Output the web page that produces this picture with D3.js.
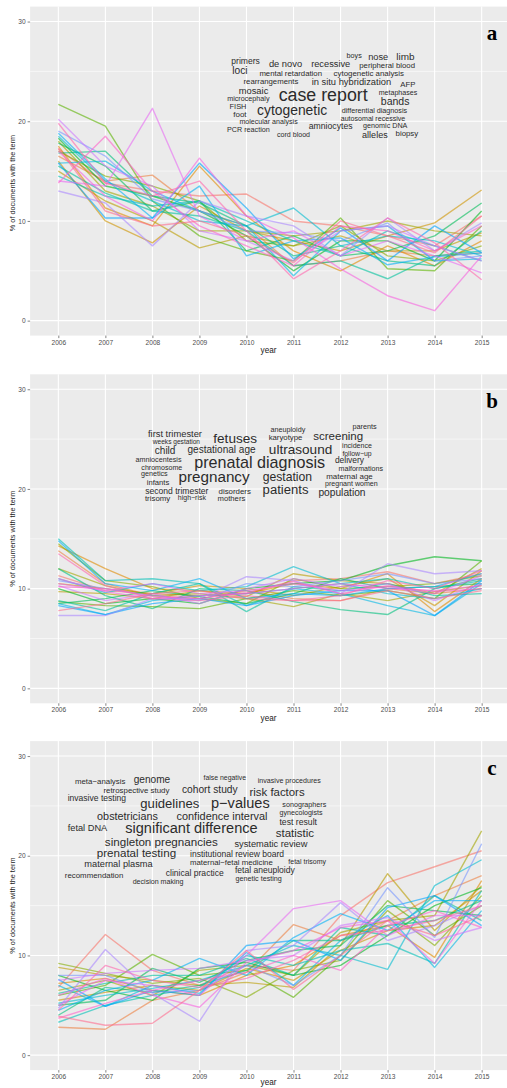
<!DOCTYPE html>
<html>
<head>
<meta charset="utf-8">
<script src="https://cdn.jsdelivr.net/npm/d3@7"></script>
<style>
  body { margin: 0; background: #fff; }
  svg { display: block; }
</style>
</head>
<body>
<svg id="chart" width="507" height="1088"></svg>
<script>
const years = [2006, 2007, 2008, 2009, 2010, 2011, 2012, 2013, 2014, 2015];
const yTicks = [0, 10, 20, 30];
const yMinor = [5, 15, 25];
const panelLabels = ['a', 'b', 'c'];

// one row per term, % of documents per year (2006..2015)
const seriesA = [
  [17.2, 13.8, 13.0, 12.5, 12.7, 10.0, 9.5, 8.5, 7.5, 10.5],
  [16.5, 14.0, 14.6, 11.0, 9.5, 5.5, 6.0, 7.0, 6.5, 6.8],
  [17.5, 11.3, 9.5, 15.5, 10.5, 7.0, 5.0, 7.5, 5.5, 8.0],
  [16.0, 10.0, 7.8, 11.5, 9.0, 8.0, 7.0, 8.5, 9.8, 13.1],
  [15.0, 12.0, 10.0, 7.3, 8.5, 7.5, 8.5, 7.0, 7.0, 8.8],
  [18.0, 13.0, 11.5, 9.0, 9.0, 8.5, 9.0, 10.0, 9.0, 8.5],
  [17.0, 14.5, 13.5, 12.0, 8.0, 7.5, 9.5, 6.5, 6.0, 7.5],
  [21.7, 19.5, 12.0, 8.5, 7.0, 6.0, 10.3, 5.2, 5.0, 9.5],
  [18.3, 13.5, 12.5, 11.0, 8.5, 5.0, 8.0, 8.0, 6.0, 11.0],
  [17.8, 15.5, 11.0, 12.0, 7.0, 8.5, 6.5, 7.0, 8.5, 11.8],
  [16.8, 17.0, 12.5, 11.8, 9.5, 6.5, 7.5, 6.0, 5.5, 9.0],
  [15.5, 12.8, 11.0, 10.5, 9.0, 5.5, 6.0, 4.2, 6.5, 7.0],
  [14.5, 12.5, 11.5, 12.0, 10.0, 8.0, 6.5, 9.0, 7.5, 6.0],
  [18.5, 14.0, 12.0, 10.0, 9.5, 11.3, 7.5, 8.5, 8.0, 6.5],
  [15.8, 16.0, 13.0, 11.0, 9.5, 4.5, 9.0, 9.5, 6.0, 6.2],
  [18.8, 14.2, 10.3, 13.5, 6.5, 8.0, 8.3, 5.6, 6.4, 6.8],
  [15.8, 10.3, 10.3, 15.8, 11.3, 6.2, 9.3, 6.0, 9.5, 6.8],
  [19.0, 16.5, 12.2, 11.0, 9.0, 8.8, 8.0, 9.8, 6.0, 6.5],
  [13.0, 11.8, 7.5, 12.0, 10.5, 9.5, 6.5, 10.3, 7.0, 9.8],
  [20.2, 15.5, 13.5, 9.0, 8.0, 6.0, 9.0, 9.5, 7.5, 6.0],
  [14.0, 13.5, 21.3, 10.5, 8.0, 9.0, 6.5, 8.0, 6.5, 4.8],
  [17.0, 12.5, 10.0, 16.3, 10.5, 8.3, 5.2, 2.5, 1.0, 6.5],
  [13.8, 18.5, 13.0, 9.5, 7.5, 5.5, 9.5, 9.0, 7.0, 9.5],
  [19.8, 13.8, 12.5, 14.0, 9.0, 4.2, 7.0, 10.3, 7.8, 4.1],
  [17.3, 11.0, 9.5, 10.0, 8.5, 5.8, 10.0, 8.5, 6.8, 10.5]
];

const seriesB = [
  [11.3, 9.8, 9.5, 9.3, 9.5, 10.8, 11.0, 11.7, 10.5, 11.5],
  [13.8, 10.5, 9.3, 9.0, 9.8, 9.0, 8.8, 10.0, 9.5, 10.0],
  [14.3, 12.0, 10.0, 9.8, 9.5, 10.5, 10.0, 11.5, 7.7, 11.0],
  [10.5, 10.0, 9.5, 10.3, 10.0, 9.3, 10.2, 11.0, 8.3, 11.8],
  [9.7, 9.5, 9.0, 9.8, 9.2, 11.5, 10.8, 10.5, 9.5, 12.0],
  [12.0, 10.3, 9.3, 9.5, 9.0, 8.2, 9.5, 8.8, 9.7, 10.3],
  [14.5, 10.8, 10.2, 9.0, 8.5, 11.0, 10.0, 10.2, 10.5, 11.3],
  [8.7, 8.3, 8.2, 8.0, 9.0, 9.8, 9.3, 9.8, 9.0, 12.8],
  [10.0, 8.5, 9.0, 8.5, 10.0, 10.5, 10.8, 12.3, 13.2, 12.8],
  [8.5, 9.0, 9.8, 9.2, 8.5, 9.5, 11.0, 10.0, 10.2, 10.5],
  [12.0, 9.3, 8.0, 10.0, 9.8, 8.7, 7.9, 7.4, 10.0, 11.0],
  [8.8, 7.8, 9.5, 10.5, 7.7, 10.2, 9.8, 10.5, 9.3, 9.5],
  [15.0, 10.8, 11.0, 10.5, 8.3, 10.0, 10.5, 11.0, 10.0, 10.8],
  [11.0, 9.6, 10.5, 9.8, 10.2, 12.2, 10.5, 9.5, 9.0, 10.0],
  [8.5, 7.4, 8.8, 9.3, 9.5, 10.0, 9.5, 8.3, 7.3, 10.5],
  [14.8, 10.5, 9.8, 11.0, 9.0, 9.5, 9.3, 10.0, 10.2, 11.5],
  [8.3, 7.4, 8.5, 9.0, 8.3, 9.3, 9.8, 9.8, 7.3, 10.8],
  [10.8, 10.0, 9.3, 8.8, 10.5, 10.2, 10.8, 11.5, 10.5, 11.0],
  [7.3, 7.3, 9.0, 9.0, 11.2, 10.8, 9.5, 12.5, 11.5, 11.8],
  [10.3, 8.8, 9.5, 8.5, 10.0, 11.0, 10.2, 10.5, 8.8, 10.5],
  [10.5, 9.8, 10.5, 9.5, 9.8, 10.5, 9.8, 10.2, 9.5, 11.3],
  [11.0, 9.7, 9.0, 9.3, 9.5, 10.0, 10.5, 10.0, 9.8, 10.3],
  [10.2, 10.0, 9.2, 9.0, 9.6, 10.7, 9.5, 10.3, 9.7, 10.0],
  [13.5, 10.3, 9.0, 8.8, 9.3, 8.8, 9.3, 10.8, 10.0, 11.8],
  [7.8, 8.5, 9.5, 9.8, 9.0, 8.8, 8.8, 9.8, 9.0, 9.8]
];

const seriesC = [
  [6.8, 12.1, 8.5, 7.0, 9.0, 8.5, 14.0, 17.3, 18.9, 20.5],
  [2.8, 2.6, 5.5, 6.5, 8.3, 13.1, 11.5, 13.5, 16.0, 18.0],
  [7.2, 7.7, 6.5, 6.0, 8.0, 9.0, 12.0, 13.0, 9.8, 17.5],
  [5.5, 6.3, 7.0, 6.5, 8.7, 7.5, 10.5, 12.5, 13.0, 16.5],
  [8.8, 8.0, 7.5, 7.0, 7.3, 6.8, 11.0, 18.2, 12.5, 17.0],
  [6.5, 7.5, 6.0, 8.5, 9.0, 8.0, 12.3, 13.5, 14.0, 22.5],
  [9.2, 8.2, 7.2, 7.7, 5.8, 8.5, 9.5, 14.5, 11.0, 16.0],
  [6.0, 7.0, 10.1, 8.0, 8.5, 5.8, 10.0, 15.5, 12.0, 15.0],
  [8.0, 6.5, 5.5, 8.7, 9.3, 8.0, 9.0, 12.0, 15.0, 16.8],
  [5.0, 5.5, 8.7, 7.3, 9.5, 10.5, 11.0, 15.0, 14.5, 14.0],
  [4.0, 6.8, 6.3, 7.0, 8.5, 11.5, 11.5, 13.0, 13.5, 15.5],
  [6.2, 7.2, 8.0, 8.0, 9.7, 8.0, 12.8, 12.0, 16.0, 13.5],
  [3.3, 5.0, 6.0, 6.8, 10.0, 9.0, 10.5, 11.2, 9.2, 16.5],
  [5.2, 6.0, 6.7, 7.5, 9.0, 11.0, 10.0, 8.6, 17.0, 19.6],
  [7.0, 4.9, 7.0, 6.2, 10.3, 7.0, 11.5, 14.0, 8.8, 14.5],
  [4.5, 6.5, 7.5, 9.7, 8.0, 11.8, 14.2, 12.5, 15.5, 15.5],
  [7.6, 4.9, 6.5, 6.0, 11.0, 11.5, 9.5, 14.8, 16.0, 13.0],
  [8.0, 8.0, 6.3, 6.5, 9.0, 7.0, 10.0, 16.8, 11.8, 21.2],
  [4.7, 10.6, 6.2, 3.4, 10.5, 11.0, 15.3, 11.5, 13.0, 15.0],
  [7.5, 8.2, 8.5, 8.7, 9.5, 10.0, 13.0, 13.8, 11.5, 12.8],
  [5.0, 7.5, 7.0, 6.0, 10.0, 14.7, 15.5, 12.0, 14.0, 14.0],
  [6.0, 7.7, 6.0, 4.8, 9.3, 10.5, 12.8, 13.5, 9.2, 15.5],
  [3.7, 5.2, 6.5, 7.5, 8.3, 10.0, 8.5, 13.0, 14.5, 12.8],
  [4.5, 9.0, 7.5, 6.8, 7.7, 9.5, 12.0, 12.5, 13.5, 15.0],
  [3.9, 3.0, 3.2, 6.5, 10.5, 6.6, 10.0, 13.5, 12.0, 14.0]
];

// word clouds: [term, weight, year position, % position]
const wordsA = [
  ['primers', 9.0, 2009.98, 26.05], ['de novo', 9.8, 2010.83, 25.72],
  ['recessive', 9.7, 2011.79, 25.72], ['boys', 7.6, 2012.29, 26.58],
  ['nose', 9.7, 2012.80, 26.48], ['limb', 10.4, 2013.38, 26.42],
  ['peripheral blood', 8.2, 2012.99, 25.58], ['loci', 10.7, 2009.86, 25.05],
  ['mental retardation', 8.2, 2010.94, 24.77], ['cytogenetic analysis', 8.3, 2012.60, 24.77],
  ['rearrangements', 8.2, 2010.52, 24.01], ['in situ hybridization', 9.8, 2012.23, 23.91],
  ['AFP', 8.2, 2013.43, 23.67], ['mosaic', 9.8, 2010.15, 23.04],
  ['case report', 18.4, 2011.63, 22.57], ['metaphases', 7.5, 2013.22, 22.91],
  ['microcephaly', 7.6, 2010.04, 22.24], ['bands', 11.0, 2013.16, 21.97],
  ['FISH', 7.9, 2009.82, 21.43], ['cytogenetic', 14.4, 2010.97, 21.06],
  ['differential diagnosis', 7.6, 2012.72, 21.06], ['foot', 8.4, 2009.86, 20.70],
  ['molecular analysis', 7.5, 2010.47, 19.96], ['autosomal recessive', 7.5, 2012.69, 20.26],
  ['amniocytes', 9.1, 2011.79, 19.53], ['genomic DNA', 7.6, 2012.95, 19.53],
  ['PCR reaction', 7.6, 2010.04, 19.13], ['cord blood', 7.5, 2011.00, 18.60],
  ['alleles', 9.5, 2012.73, 18.63], ['biopsy', 8.3, 2013.41, 18.73]
];

const wordsB = [
  ['first trimester', 9.8, 2008.48, 25.51], ['weeks gestation', 7.0, 2008.51, 24.73],
  ['fetuses', 14.1, 2009.76, 25.0], ['aneuploidy', 7.6, 2010.88, 25.98],
  ['karyotype', 8.2, 2010.83, 25.18], ['screening', 12.0, 2011.95, 25.24],
  ['parents', 7.7, 2012.51, 26.24], ['child', 10.5, 2008.27, 23.83],
  ['gestational age', 10.5, 2009.47, 23.90], ['ultrasound', 14.1, 2011.15, 23.97],
  ['incidence', 7.5, 2012.35, 24.30], ['follow\u2212up', 7.3, 2012.35, 23.57],
  ['amniocentesis', 7.6, 2008.13, 22.93], ['prenatal diagnosis', 16.7, 2010.28, 22.63],
  ['delivery', 8.9, 2012.19, 22.87], ['chromosome', 7.5, 2008.20, 22.17],
  ['malformations', 7.5, 2012.43, 22.0], ['genetics', 7.6, 2008.04, 21.49],
  ['pregnancy', 15.8, 2009.31, 21.16], ['gestation', 12.7, 2010.87, 21.16],
  ['maternal age', 8.4, 2012.19, 21.29], ['infants', 8.1, 2008.12, 20.66],
  ['pregnant women', 7.5, 2012.23, 20.56], ['second trimester', 9.0, 2008.52, 19.79],
  ['disorders', 8.3, 2009.75, 19.79], ['patients', 13.6, 2010.83, 19.89],
  ['population', 10.7, 2012.03, 19.62], ['trisomy', 8.3, 2008.11, 19.06],
  ['high\u2212risk', 7.4, 2008.84, 19.12], ['mothers', 8.1, 2009.68, 19.02]
];

const wordsC = [
  ['meta\u2212analysis', 8.3, 2006.89, 27.48], ['genome', 10.6, 2007.99, 27.62],
  ['false negative', 7.3, 2009.54, 27.82], ['invasive procedures', 7.5, 2010.91, 27.48],
  ['retrospective study', 8.3, 2007.66, 26.52], ['cohort study', 10.7, 2009.22, 26.65],
  ['risk factors', 11.9, 2010.65, 26.38], ['invasive testing', 9.0, 2006.82, 25.72],
  ['guidelines', 13.6, 2008.37, 25.25], ['p\u2212values', 15.1, 2009.87, 25.25],
  ['sonographers', 7.6, 2011.23, 25.12], ['obstetricians', 11.3, 2007.47, 23.91],
  ['confidence interval', 11.4, 2009.48, 23.91], ['gynecologists', 7.5, 2011.16, 24.27],
  ['test result', 9.1, 2011.10, 23.37], ['fetal DNA', 9.7, 2006.62, 22.81],
  ['significant difference', 15.1, 2008.83, 22.77], ['statistic', 12.0, 2011.03, 22.24],
  ['singleton pregnancies', 12.1, 2008.19, 21.33], ['systematic review', 9.7, 2010.52, 21.20],
  ['prenatal testing', 12.1, 2007.66, 20.26], ['institutional review board', 9.0, 2009.80, 20.13],
  ['maternal plasma', 9.7, 2007.28, 19.13], ['maternal\u2212fetal medicine', 8.2, 2009.68, 19.36],
  ['fetal trisomy', 7.4, 2011.29, 19.40], ['recommendation', 8.3, 2006.76, 18.02],
  ['clinical practice', 9.0, 2008.90, 18.25], ['fetal aneuploidy', 9.0, 2010.39, 18.53],
  ['decision making', 7.5, 2008.12, 17.42], ['genetic testing', 7.6, 2010.26, 17.69]
];

const panels = [
  { top: 6.6, series: seriesA, words: wordsA, label: panelLabels[0], titleShift: 12 },
  { top: 374.3, series: seriesB, words: wordsB, label: panelLabels[1], titleShift: 0 },
  { top: 741.1, series: seriesC, words: wordsC, label: panelLabels[2], titleShift: 0 }
];

// ggplot2 default hue palette: hcl(h, c = 100, l = 65) in polar CIE-Luv
function hueColor(h) {
  const L = 65, C = 100, rad = h * Math.PI / 180;
  const u = C * Math.cos(rad), v = C * Math.sin(rad);
  const Xn = 0.95047, Yn = 1, Zn = 1.08883;
  const den = Xn + 15 * Yn + 3 * Zn;
  const un = 4 * Xn / den, vn = 9 * Yn / den;
  const Y = Yn * Math.pow((L + 16) / 116, 3);
  const up = u / (13 * L) + un, vp = v / (13 * L) + vn;
  const X = Y * 9 * up / (4 * vp);
  const Z = Y * (12 - 3 * up - 20 * vp) / (4 * vp);
  const lin = [
    3.2404542 * X - 1.5371385 * Y - 0.4985314 * Z,
    -0.9692660 * X + 1.8760108 * Y + 0.0415560 * Z,
    0.0556434 * X - 0.2040259 * Y + 1.0572252 * Z
  ];
  const gam = (c) => {
    c = Math.max(0, Math.min(1, c));
    return Math.round(255 * (c <= 0.0031308 ? 12.92 * c : 1.055 * Math.pow(c, 1 / 2.4) - 0.055));
  };
  return d3.rgb(gam(lin[0]), gam(lin[1]), gam(lin[2])).formatHex();
}

const svg = d3.select('#chart');
const W = 507;
const panelH = 329;
const font = 'Liberation Sans, Arial, Helvetica, sans-serif';

const x = d3.scaleLinear().domain([2005.4, 2015.6]).range([30.1, 509.9]);
const fontSize = d3.scaleLinear().domain([7, 19]).range([6.6, 18.4]);

panels.forEach((p, pi) => {
  const y = d3.scaleLinear().domain([-1.5, 31.5]).range([p.top + panelH, p.top]);
  const g = svg.append('g');
  const bottom = p.top + panelH;
  const nSeries = p.series.length;
  const color = d3.scaleOrdinal()
    .domain(d3.range(nSeries))
    .range(d3.range(nSeries).map((i) => hueColor(15 + i * 360 / nSeries)));

  g.append('rect')
    .attr('x', x.range()[0])
    .attr('y', p.top)
    .attr('width', W - x.range()[0])
    .attr('height', panelH)
    .attr('fill', '#ebebeb');

  g.selectAll('.minor')
    .data(yMinor)
    .enter()
    .append('line')
    .attr('x1', x.range()[0]).attr('x2', W)
    .attr('y1', (d) => y(d)).attr('y2', (d) => y(d))
    .attr('stroke', '#fff').attr('stroke-width', 0.55);

  g.selectAll('.hmajor')
    .data(yTicks)
    .enter()
    .append('line')
    .attr('x1', x.range()[0]).attr('x2', W)
    .attr('y1', (d) => y(d)).attr('y2', (d) => y(d))
    .attr('stroke', '#fff').attr('stroke-width', 1.1);

  g.selectAll('.vmajor')
    .data(years)
    .enter()
    .append('line')
    .attr('x1', (d) => x(d)).attr('x2', (d) => x(d))
    .attr('y1', p.top).attr('y2', bottom)
    .attr('stroke', '#fff').attr('stroke-width', 1.1);

  const line = d3.line()
    .x((d, i) => x(years[i]))
    .y((d) => y(d));

  g.selectAll('.term')
    .data(p.series)
    .enter()
    .append('path')
    .attr('d', line)
    .attr('fill', 'none')
    .attr('stroke', (d, i) => color(i))
    .attr('stroke-opacity', 0.6)
    .attr('stroke-width', 1.4)
    .attr('stroke-linejoin', 'round');

  g.selectAll('.word')
    .data(p.words)
    .enter()
    .append('text')
    .attr('x', (d) => x(d[2]))
    .attr('y', (d) => y(d[3]))
    .attr('dy', '0.32em')
    .attr('text-anchor', 'middle')
    .attr('font-family', font)
    .attr('font-size', (d) => fontSize(d[1]))
    .attr('fill', '#2b2b2b')
    .text((d) => d[0]);

  // axes
  const yAxis = d3.axisLeft(y).tickValues(yTicks).tickSize(2.5).tickPadding(2);
  const ya = g.append('g').attr('transform', `translate(${x.range()[0]},0)`).call(yAxis);
  const xAxis = d3.axisBottom(x).tickValues(years).tickFormat(d3.format('d')).tickSize(2.5).tickPadding(2);
  const xa = g.append('g').attr('transform', `translate(0,${bottom})`).call(xAxis);
  [ya, xa].forEach((a) => {
    a.select('.domain').remove();
    a.selectAll('.tick line').attr('stroke', '#333').attr('stroke-width', 0.6);
    a.selectAll('.tick text')
      .attr('fill', '#4d4d4d')
      .attr('font-family', font)
      .attr('font-size', 6.6);
  });

  // the last panel's x title sits on the page edge
  g.append('text')
    .attr('x', (x.range()[0] + W) / 2)
    .attr('y', pi === panels.length - 1 ? 1085 : bottom + 17.5)
    .attr('text-anchor', 'middle')
    .attr('font-family', font)
    .attr('font-size', 8.2)
    .attr('fill', '#1a1a1a')
    .text('year');

  const cy = p.top + panelH / 2 + p.titleShift;
  g.append('text')
    .attr('transform', `translate(14.5,${cy}) rotate(-90)`)
    .attr('text-anchor', 'middle')
    .attr('font-family', font)
    .attr('font-size', 7.3)
    .attr('fill', '#1a1a1a')
    .text('% of documents with the term');

  g.append('text')
    .attr('x', 492)
    .attr('y', p.top + 33.5)
    .attr('text-anchor', 'middle')
    .attr('font-family', 'Liberation Serif, Times New Roman, serif')
    .attr('font-weight', 'bold')
    .attr('font-size', 21)
    .attr('fill', '#000')
    .text(p.label);
});
</script>
</body>
</html>
